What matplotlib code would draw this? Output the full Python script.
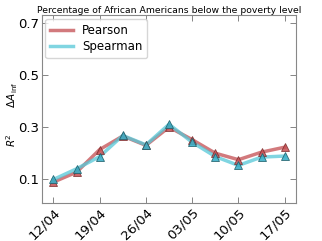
import matplotlib
matplotlib.use("Agg")
import matplotlib.pyplot as plt

# dates on the x axis (points every ~3.5 days, labels every other point)
dates = ['12/04', '', '19/04', '', '26/04', '', '03/05', '', '10/05', '', '17/05']
pearson = [0.090, 0.128, 0.215, 0.267, 0.231, 0.301, 0.253, 0.201, 0.176, 0.205, 0.224]
spearman = [0.100, 0.141, 0.188, 0.269, 0.233, 0.312, 0.243, 0.188, 0.154, 0.186, 0.190]
yticks = [0.1, 0.3, 0.5, 0.7]

fig = plt.figure(figsize=(3.22, 2.41), dpi=100)
ax = fig.add_axes([0.130, 0.158, 0.790, 0.778])

x = list(range(len(dates)))
# lines first, then markers on top
ax.plot(x, pearson, color='#c44e52', lw=2.5, alpha=0.75, label='Pearson', zorder=2)
ax.plot(x, spearman, color='#55c8d8', lw=2.5, alpha=0.75, label='Spearman', zorder=2)
ax.plot(x, pearson, ls='none', marker='^', ms=6, mfc='#c44e52', mec='#7a2a2a', mew=0.6, alpha=0.85, zorder=3)
ax.plot(x, spearman, ls='none', marker='^', ms=6, mfc='#3cb0c8', mec='#1f5f6a', mew=0.6, alpha=0.9, zorder=3)

ax.set_xlim(-0.5, 10.5)
ax.set_ylim(0.01, 0.73)
ax.set_yticks(yticks)
ax.set_yticklabels([str(v) for v in yticks], fontsize=9.5)
ax.set_xticks(x[::2])
ax.set_xticklabels(dates[::2], rotation=45, ha='right', rotation_mode='anchor', fontsize=9.5)
ax.tick_params(direction='in', top=True, right=True, length=4, width=0.5, color='#555555', pad=2)
for s in ax.spines.values():
    s.set_color('#888888')
    s.set_linewidth(0.8)

ax.set_title('Percentage of African Americans below the poverty level', fontsize=6.7, pad=2)
ax.set_ylabel(r'$R^2\qquad\ \ \Delta A_{\rm inf}$', fontsize=7.5)
ax.yaxis.set_label_coords(-0.085, 0.47)

ax.legend(loc='upper left', fontsize=8.5, frameon=True, handlelength=1.9,
          borderaxespad=0.3, labelspacing=0.3, edgecolor='#cccccc')

fig.savefig('out.png', dpi=100)
